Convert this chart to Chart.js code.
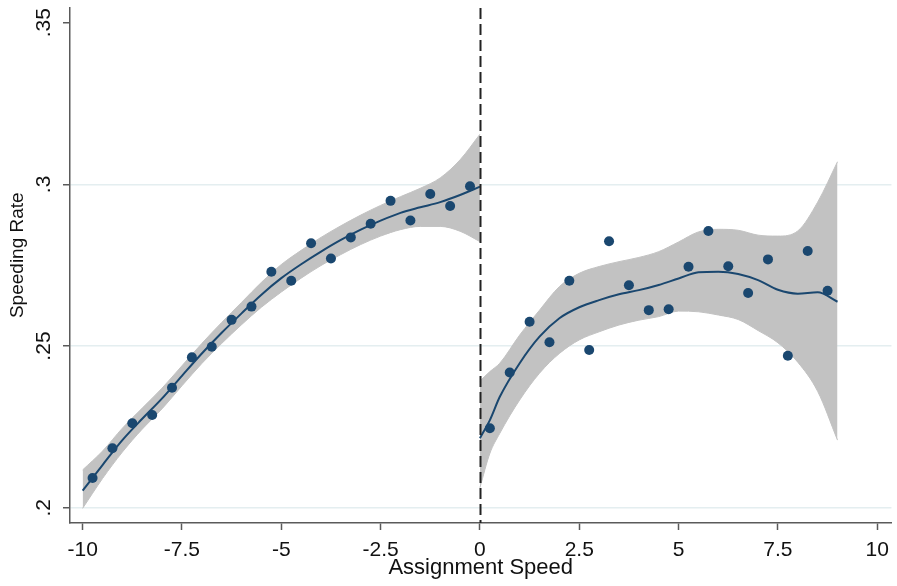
<!DOCTYPE html>
<html>
<head>
<meta charset="utf-8">
<script src="https://cdn.jsdelivr.net/npm/chart.js@4.4.1/dist/chart.umd.min.js"></script>
<style>
  html, body { margin: 0; padding: 0; background: #fff; }
</style>
</head>
<body>
<canvas id="chart" width="897" height="586"></canvas>
<script>
// binned scatter, left and right of the cutoff
const binsLeft = [-9.75, -9.25, -8.75, -8.25, -7.75, -7.25, -6.75, -6.25, -5.75, -5.25,
                  -4.75, -4.25, -3.75, -3.25, -2.75, -2.25, -1.75, -1.25, -0.75, -0.25];
const rateLeft = [0.2092, 0.2184, 0.2261, 0.2287, 0.2371, 0.2465, 0.2498, 0.2581, 0.2622, 0.2730,
                  0.2702, 0.2818, 0.2771, 0.2836, 0.2878, 0.2949, 0.2888, 0.2970, 0.2933, 0.2994];
const binsRight = [0.25, 0.75, 1.25, 1.75, 2.25, 2.75, 3.25, 3.75, 4.25,
                   4.75, 5.25, 5.75, 6.25, 6.75, 7.25, 7.75, 8.25, 8.75];
const rateRight = [0.2246, 0.2418, 0.2575, 0.2512, 0.2702, 0.2488, 0.2824, 0.2688, 0.2611,
                   0.2614, 0.2745, 0.2856, 0.2747, 0.2664, 0.2768, 0.2470, 0.2794, 0.2671];

// local fit and 95% band
const fitLeftX = [-10, -9.5, -9, -8.5, -8, -7.5, -7, -6.5, -6, -5.5, -5,
                  -4.5, -4, -3.5, -3, -2.5, -2, -1.5, -1, -0.5, 0];
const fitLeft = [0.2053, 0.2132, 0.2209, 0.2275, 0.2338, 0.2408, 0.2477, 0.2541, 0.2601, 0.2659, 0.2710,
                 0.2753, 0.2792, 0.2828, 0.2860, 0.2888, 0.2912, 0.2929, 0.2945, 0.2967, 0.2993];
const upperLeft = [0.2117, 0.2175, 0.2246, 0.2308, 0.2370, 0.2439, 0.2508, 0.2573, 0.2635, 0.2697, 0.2752,
                   0.2796, 0.2836, 0.2872, 0.2905, 0.2935, 0.2962, 0.2988, 0.3020, 0.3076, 0.3155];
const lowerLeft = [0.1998, 0.2090, 0.2172, 0.2243, 0.2306, 0.2377, 0.2446, 0.2508, 0.2566, 0.2620, 0.2667,
                   0.2710, 0.2749, 0.2783, 0.2814, 0.2840, 0.2860, 0.2870, 0.2870, 0.2855, 0.2823];

const fitRightX = [0, 0.25, 0.5, 1, 1.5, 2, 2.5, 3, 3.5, 4, 4.5,
                   5, 5.5, 6, 6.5, 7, 7.5, 8, 8.5, 9];
const fitRight = [0.2215, 0.2271, 0.2343, 0.2447, 0.2529, 0.2586, 0.2620, 0.2642, 0.2660, 0.2673, 0.2689,
                  0.2709, 0.2728, 0.2730, 0.2723, 0.2704, 0.2674, 0.2662, 0.2666, 0.2637];
const upperRight = [0.2392, 0.2421, 0.2447, 0.2534, 0.2611, 0.2684, 0.2725, 0.2746, 0.2761, 0.2774, 0.2792,
                    0.2822, 0.2853, 0.2861, 0.2858, 0.2843, 0.2840, 0.2856, 0.2945, 0.3070];
const lowerRight = [0.2062, 0.2168, 0.2230, 0.2333, 0.2416, 0.2477, 0.2519, 0.2544, 0.2565, 0.2580, 0.2591,
                    0.2608, 0.2606, 0.2596, 0.2582, 0.2548, 0.2510, 0.2450, 0.2360, 0.2209];

const xTicks = [-10, -7.5, -5, -2.5, 0, 2.5, 5, 7.5, 10];
const xTickLabels = ['-10', '-7.5', '-5', '-2.5', '0', '2.5', '5', '7.5', '10'];
const yTicks = [0.2, 0.25, 0.3, 0.35];
const yTickLabels = ['.2', '.25', '.3', '.35'];
const cutoff = 0;

const navy = '#1a476f';
const bandGray = '#c2c2c2';
const axisGray = '#5a5a5a';
const family = "'Liberation Sans', Arial, sans-serif";

function pts(xs, ys) {
    return xs.map((x, i) => ({ x: x, y: ys[i] }));
}

function fitLine(xs, ys) {
    return {
        type: 'line', data: pts(xs, ys), borderColor: navy, borderWidth: 2,
        pointRadius: 0, fill: false, cubicInterpolationMode: 'monotone', order: 1
    };
}

function bandEdge(xs, ys, fill) {
    return {
        type: 'line', data: pts(xs, ys), borderColor: bandGray, borderWidth: 1,
        backgroundColor: bandGray, pointRadius: 0, fill: fill,
        cubicInterpolationMode: 'monotone', order: 2
    };
}

function dots(xs, ys) {
    return {
        type: 'scatter', data: pts(xs, ys), backgroundColor: navy, borderColor: navy,
        pointRadius: 5, borderWidth: 0, order: 0
    };
}

// dashed line at the cutoff and the y title
const extras = {
    id: 'extras',
    afterDatasetsDraw(chart) {
        const { ctx, chartArea, scales } = chart;
        const px = Math.round(scales.x.getPixelForValue(cutoff)) + 0.5;
        ctx.save();
        ctx.strokeStyle = '#222';
        ctx.lineWidth = 2;
        ctx.setLineDash([11, 5]);
        ctx.beginPath();
        ctx.moveTo(px, chartArea.top);
        ctx.lineTo(px, chartArea.bottom);
        ctx.stroke();
        ctx.restore();
    },
    afterDraw(chart) {
        const { ctx, chartArea } = chart;
        ctx.save();
        ctx.translate(18, chartArea.top + (chartArea.bottom - chartArea.top) * 0.48);
        ctx.rotate(-Math.PI / 2);
        ctx.font = '19px ' + family;
        ctx.fillStyle = '#111';
        ctx.textAlign = 'center';
        ctx.textBaseline = 'middle';
        ctx.fillText('Speeding Rate', 0, 0);
        ctx.restore();
    }
};

new Chart(document.getElementById('chart'), {
    type: 'scatter',
    data: {
        datasets: [
            dots(binsLeft, rateLeft),
            dots(binsRight, rateRight),
            fitLine(fitLeftX, fitLeft),
            fitLine(fitRightX, fitRight),
            bandEdge(fitLeftX, upperLeft, '+1'),
            bandEdge(fitLeftX, lowerLeft, false),
            bandEdge(fitRightX, upperRight, '+1'),
            bandEdge(fitRightX, lowerRight, false)
        ]
    },
    options: {
        responsive: false,
        animation: false,
        layout: { padding: { top: 8, right: 2, left: 0, bottom: 0 } },
        plugins: { legend: { display: false }, tooltip: { enabled: false } },
        scales: {
            x: {
                type: 'linear', min: -10.318, max: 10.358,
                afterBuildTicks: s => { s.ticks = xTicks.map(v => ({ value: v })); },
                afterFit: s => { s.height = 63; },
                ticks: {
                    callback: (v, i) => xTickLabels[i], color: '#111', font: { family: family, size: 21 },
                    padding: 8, maxRotation: 0, autoSkip: false
                },
                grid: { drawOnChartArea: false, drawTicks: true, tickLength: 7, tickColor: axisGray, tickWidth: 1.5 },
                border: { display: true, color: axisGray, width: 1.5 },
                title: { display: true, text: 'Assignment Speed', color: '#111', font: { family: family, size: 22 }, padding: { top: 0, bottom: 5 } }
            },
            y: {
                type: 'linear', min: 0.19527, max: 0.35455,
                afterBuildTicks: s => { s.ticks = yTicks.map(v => ({ value: v })); },
                afterFit: s => { s.width = 70; s.paddingTop = 0; s.paddingBottom = 0; },
                ticks: {
                    callback: (v, i) => yTickLabels[i], color: '#111', font: { family: family, size: 21 },
                    minRotation: 90, maxRotation: 90, crossAlign: 'center', padding: 4, autoSkip: false
                },
                grid: {
                    color: c => (c.tick && c.tick.value < 0.34 ? '#e4eef0' : 'rgba(0,0,0,0)'),
                    lineWidth: 1.5, drawTicks: true, tickLength: 7, tickColor: axisGray, tickWidth: 1.5
                },
                border: { display: true, color: axisGray, width: 1.5 },
                title: { display: false }
            }
        }
    },
    plugins: [extras]
});
</script>
</body>
</html>
